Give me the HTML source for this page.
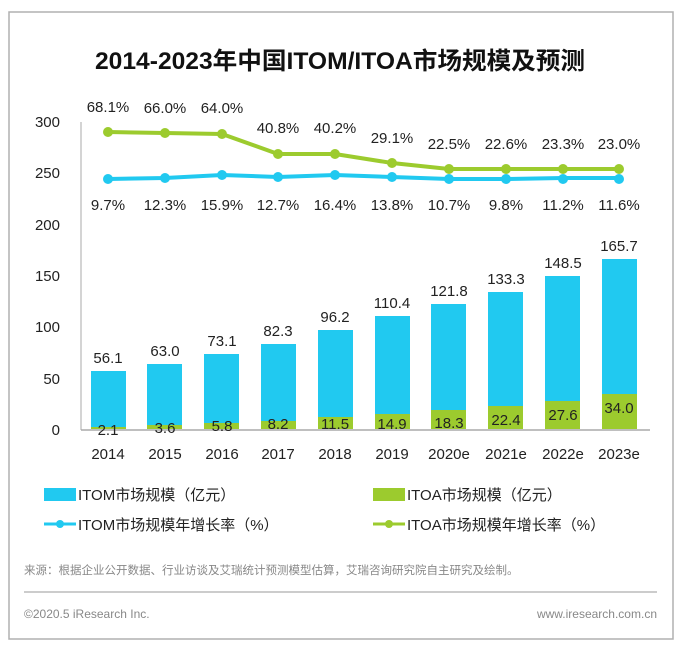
<!DOCTYPE html>
<html><head><meta charset="utf-8"><style>
body{margin:0;background:#fff;font-family:"Liberation Sans","Noto Sans CJK SC",sans-serif}
</style></head><body>
<svg width="676" height="647" xmlns="http://www.w3.org/2000/svg" font-family="Liberation Sans, Noto Sans CJK SC, sans-serif">
<rect x="9" y="12" width="664" height="627" fill="#fff" stroke="#b0b0b0" stroke-width="1.5"/>
<text x="95" y="69" textLength="490" lengthAdjust="spacingAndGlyphs" font-size="24" font-weight="bold" fill="#111">2014-2023年中国ITOM/ITOA市场规模及预测</text>
<g font-size="15" fill="#222" text-anchor="end">
<text x="60" y="127">300</text><text x="60" y="178">250</text><text x="60" y="230">200</text>
<text x="60" y="281">150</text><text x="60" y="332">100</text><text x="60" y="384">50</text><text x="60" y="435">0</text>
</g>
<line x1="81" y1="122" x2="81" y2="430" stroke="#aaa"/>
<line x1="81" y1="430" x2="650" y2="430" stroke="#aaa" stroke-width="1.5"/>
<g fill="#21c9f0">
<rect x="91" y="371" width="35" height="58"/><rect x="147" y="364" width="35" height="65"/>
<rect x="204" y="354" width="35" height="75"/><rect x="261" y="344" width="35" height="85"/>
<rect x="318" y="330" width="35" height="99"/><rect x="375" y="316" width="35" height="113"/>
<rect x="431" y="304" width="35" height="125"/><rect x="488" y="292" width="35" height="137"/>
<rect x="545" y="276" width="35" height="153"/><rect x="602" y="259" width="35" height="170"/>
</g>
<g fill="#9ccb2e">
<rect x="91" y="427" width="35" height="2"/><rect x="147" y="425" width="35" height="4"/>
<rect x="204" y="423" width="35" height="6"/><rect x="261" y="421" width="35" height="8"/>
<rect x="318" y="417" width="35" height="12"/><rect x="375" y="414" width="35" height="15"/>
<rect x="431" y="410" width="35" height="19"/><rect x="488" y="406" width="35" height="23"/>
<rect x="545" y="401" width="35" height="28"/><rect x="602" y="394" width="35" height="35"/>
</g>
<g font-size="15" fill="#222" text-anchor="middle">
<text x="108" y="363">56.1</text><text x="165" y="356">63.0</text><text x="222" y="346">73.1</text>
<text x="278" y="336">82.3</text><text x="335" y="322">96.2</text><text x="392" y="308">110.4</text>
<text x="449" y="296">121.8</text><text x="506" y="284">133.3</text><text x="563" y="268">148.5</text><text x="619" y="251">165.7</text>
<text x="108" y="435">2.1</text><text x="165" y="433">3.6</text><text x="222" y="431">5.8</text>
<text x="278" y="429">8.2</text><text x="335" y="429">11.5</text><text x="392" y="429">14.9</text>
<text x="449" y="428">18.3</text><text x="506" y="425">22.4</text><text x="563" y="420">27.6</text><text x="619" y="413">34.0</text>
<text x="108" y="459">2014</text><text x="165" y="459">2015</text><text x="222" y="459">2016</text>
<text x="278" y="459">2017</text><text x="335" y="459">2018</text><text x="392" y="459">2019</text>
<text x="449" y="459">2020e</text><text x="506" y="459">2021e</text><text x="563" y="459">2022e</text><text x="619" y="459">2023e</text>
<text x="108" y="112">68.1%</text><text x="165" y="113">66.0%</text><text x="222" y="113">64.0%</text>
<text x="278" y="133">40.8%</text><text x="335" y="133">40.2%</text><text x="392" y="143">29.1%</text>
<text x="449" y="149">22.5%</text><text x="506" y="149">22.6%</text><text x="563" y="149">23.3%</text><text x="619" y="149">23.0%</text>
<text x="108" y="210">9.7%</text><text x="165" y="210">12.3%</text><text x="222" y="210">15.9%</text>
<text x="278" y="210">12.7%</text><text x="335" y="210">16.4%</text><text x="392" y="210">13.8%</text>
<text x="449" y="210">10.7%</text><text x="506" y="210">9.8%</text><text x="563" y="210">11.2%</text><text x="619" y="210">11.6%</text>
</g>
<polyline points="108,132 165,133 222,134 278,154 335,154 392,163 449,169 506,169 563,169 619,169" fill="none" stroke="#9ccb2e" stroke-width="4"/>
<g fill="#9ccb2e"><circle cx="108" cy="132" r="5"/><circle cx="165" cy="133" r="5"/><circle cx="222" cy="134" r="5"/><circle cx="278" cy="154" r="5"/><circle cx="335" cy="154" r="5"/><circle cx="392" cy="163" r="5"/><circle cx="449" cy="169" r="5"/><circle cx="506" cy="169" r="5"/><circle cx="563" cy="169" r="5"/><circle cx="619" cy="169" r="5"/></g>
<polyline points="108,179 165,178 222,175 278,177 335,175 392,177 449,179 506,179 563,178 619,178" fill="none" stroke="#21c9f0" stroke-width="4"/>
<g fill="#21c9f0"><circle cx="108" cy="179" r="5"/><circle cx="165" cy="178" r="5"/><circle cx="222" cy="175" r="5"/><circle cx="278" cy="177" r="5"/><circle cx="335" cy="175" r="5"/><circle cx="392" cy="177" r="5"/><circle cx="449" cy="179" r="5"/><circle cx="506" cy="179" r="5"/><circle cx="563" cy="179" r="5"/><circle cx="619" cy="179" r="5"/></g>
<rect x="44" y="488" width="32" height="13" fill="#21c9f0"/>
<rect x="373" y="488" width="32" height="13" fill="#9ccb2e"/>
<line x1="44" y1="524" x2="76" y2="524" stroke="#21c9f0" stroke-width="3"/><circle cx="60" cy="524" r="4" fill="#21c9f0"/>
<line x1="373" y1="524" x2="405" y2="524" stroke="#9ccb2e" stroke-width="3"/><circle cx="389" cy="524" r="4" fill="#9ccb2e"/>
<g font-size="15" fill="#222">
<text x="78" y="500">ITOM市场规模（亿元）</text><text x="407" y="500">ITOA市场规模（亿元）</text>
<text x="78" y="530">ITOM市场规模年增长率（%）</text><text x="407" y="530">ITOA市场规模年增长率（%）</text>
</g>
<text x="24" y="574" font-size="11.5" fill="#888">来源：根据企业公开数据、行业访谈及艾瑞统计预测模型估算，艾瑞咨询研究院自主研究及绘制。</text>
<line x1="24" y1="592" x2="657" y2="592" stroke="#999"/>
<text x="24" y="618" font-size="12" fill="#888">©2020.5 iResearch Inc.</text>
<text x="657" y="618" font-size="12" fill="#888" text-anchor="end">www.iresearch.com.cn</text>
</svg>
</body></html>
